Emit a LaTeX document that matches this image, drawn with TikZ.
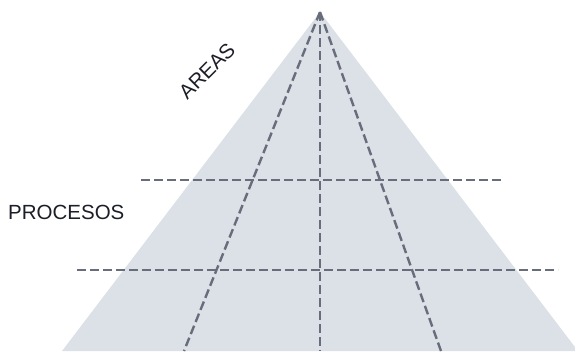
\documentclass[tikz,border=0pt]{standalone}
\usepackage{fontspec}
\setsansfont{Liberation Sans}
\usepackage{xcolor}
\definecolor{pyrFill}{RGB}{220,225,231}
\definecolor{gridLine}{RGB}{104,109,124}
\definecolor{labText}{RGB}{28,30,40}

\begin{document}
\begin{tikzpicture}[x=1pt, y=-1pt, font=\sffamily\fontsize{20.5}{24}\selectfont,
  grid/.style={gridLine, line width=2.4pt, dash pattern=on 9pt off 4pt},
  lab/.style={labText, inner sep=0pt}]
  \useasboundingbox (0,0) rectangle (575,351);
  \clip (0,0) rectangle (575,351);
  % --- the pyramid ----------------------------------------------------------
  \coordinate (top) at (320,12);
  \coordinate (baseL) at (62,351);
  \coordinate (baseR) at (578,351);
  \fill[pyrFill] (top) -- (baseL) -- (baseR) -- cycle;
  % --- areas: lines from the top down to the base ----------------------------
  \foreach \x/\n in {184/a, 320/b, 441/c} {
     \coordinate (foot\n) at (\x,351);
     \draw[grid] (top) -- (foot\n);
  }
  % --- process levels --------------------------------------------------------
  \coordinate (lvlAw) at (141,180); \coordinate (lvlAe) at (501,180);
  \coordinate (lvlBw) at (77,270);  \coordinate (lvlBe) at (558,270);
  \draw[grid] (lvlAw) -- (lvlAe);
  \draw[grid] (lvlBw) -- (lvlBe);
  % --- labels ------------------------------------------------------------------
  \node[lab, rotate=45] (areas) at (207,71) {AREAS};
  \node[lab, anchor=base west] (procesos) at (8,219) {PROCESOS};
\end{tikzpicture}
\end{document}
